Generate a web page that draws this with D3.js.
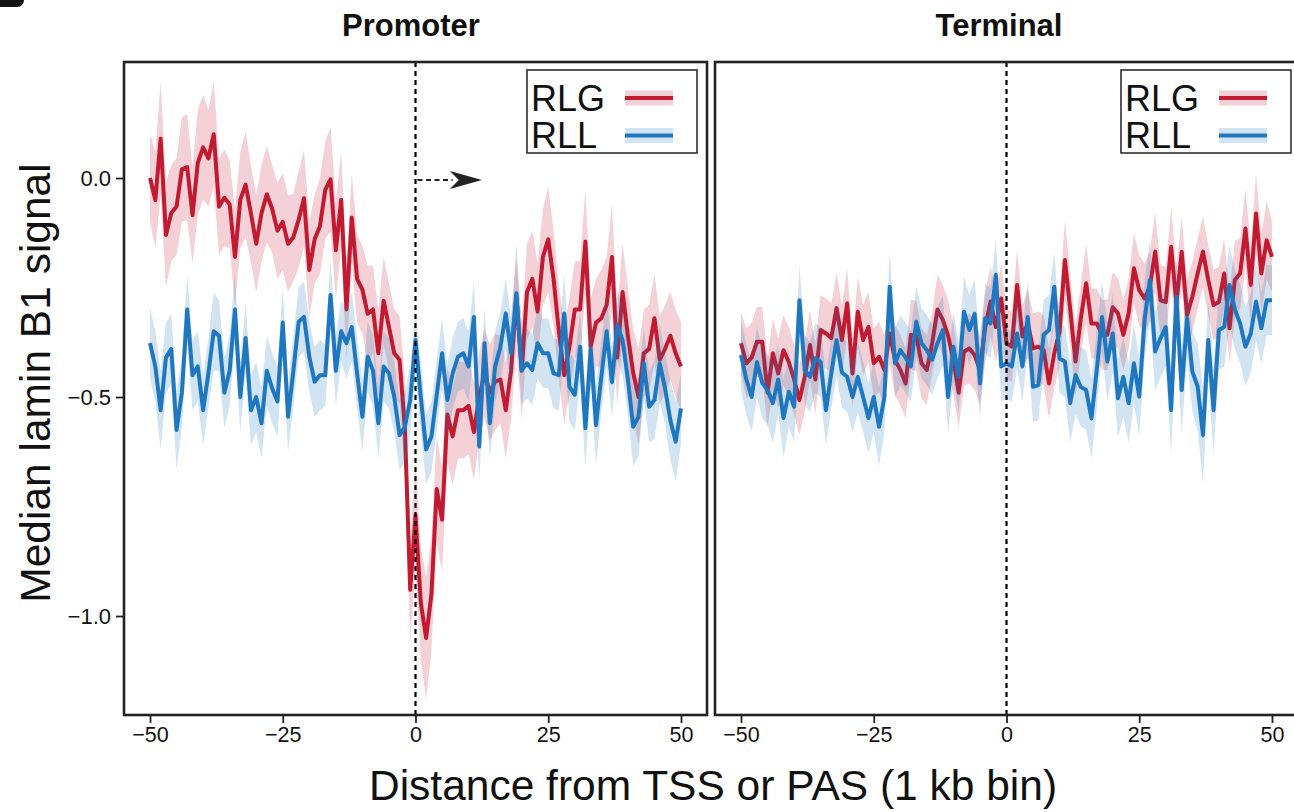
<!DOCTYPE html>
<html>
<head>
<meta charset="utf-8">
<script src="https://cdn.jsdelivr.net/npm/d3@7"></script>
<style>
  body { margin: 0; background: #fff; }
  svg { display: block; font-family: "Liberation Sans", Arial, sans-serif; }
</style>
</head>
<body>
<svg id="chart"></svg>
<script>
// bins -50..50 (1 kb)
const bins = d3.range(-50, 51);
const panels = ["Promoter", "Terminal"];
const xTicks = [-50, -25, 0, 25, 50];
const yTicks = [0, -0.5, -1.0];

const promoterRLG = [
  0.00, -0.05, 0.09, -0.13, -0.08, -0.065, 0.02, 0.025, -0.085, 0.035,
  0.07, 0.045, 0.10, -0.065, -0.045, -0.06, -0.18, -0.05, -0.015, -0.08,
  -0.15, -0.08, -0.037, -0.07, -0.12, -0.10, -0.15, -0.135, -0.095, -0.046,
  -0.21, -0.14, -0.11, -0.027, -0.003, -0.165, -0.05, -0.30, -0.09, -0.23,
  -0.255, -0.31, -0.30, -0.40, -0.28, -0.34, -0.40, -0.415, -0.57, -0.94,
  -0.77, -0.97, -1.05, -0.95, -0.71, -0.78, -0.54, -0.59, -0.53, -0.53,
  -0.52, -0.58, -0.50, -0.445, -0.49, -0.465, -0.46, -0.53, -0.44, -0.27,
  -0.44, -0.26, -0.23, -0.305, -0.18, -0.14, -0.23, -0.35, -0.45, -0.385,
  -0.30, -0.30, -0.145, -0.385, -0.33, -0.32, -0.29, -0.18, -0.41, -0.26,
  -0.36, -0.445, -0.50, -0.40, -0.39, -0.32, -0.415, -0.39, -0.36, -0.40,
  -0.43
];
const promoterRLGse = [
  0.10, 0.11, 0.13, 0.12, 0.11, 0.11, 0.12, 0.12, 0.11, 0.12,
  0.12, 0.11, 0.12, 0.11, 0.11, 0.10, 0.11, 0.11, 0.12, 0.11,
  0.11, 0.11, 0.11, 0.10, 0.11, 0.11, 0.11, 0.10, 0.11, 0.11,
  0.11, 0.10, 0.11, 0.11, 0.12, 0.11, 0.11, 0.11, 0.10, 0.10,
  0.10, 0.11, 0.10, 0.10, 0.10, 0.10, 0.10, 0.10, 0.11, 0.12,
  0.12, 0.13, 0.14, 0.13, 0.12, 0.12, 0.11, 0.11, 0.11, 0.11,
  0.11, 0.11, 0.10, 0.10, 0.11, 0.11, 0.10, 0.11, 0.11, 0.12,
  0.11, 0.11, 0.11, 0.11, 0.11, 0.12, 0.11, 0.11, 0.11, 0.11,
  0.11, 0.11, 0.12, 0.11, 0.10, 0.11, 0.11, 0.12, 0.11, 0.11,
  0.11, 0.10, 0.11, 0.10, 0.10, 0.10, 0.10, 0.10, 0.10, 0.10,
  0.10
];
const promoterRLL = [
  -0.377, -0.43, -0.53, -0.41, -0.39, -0.575, -0.49, -0.30, -0.45, -0.43,
  -0.53, -0.445, -0.35, -0.36, -0.49, -0.44, -0.30, -0.50, -0.365, -0.53,
  -0.50, -0.56, -0.44, -0.48, -0.51, -0.33, -0.545, -0.44, -0.328, -0.317,
  -0.408, -0.465, -0.45, -0.45, -0.267, -0.44, -0.35, -0.377, -0.34, -0.446,
  -0.545, -0.408, -0.44, -0.56, -0.43, -0.446, -0.50, -0.587, -0.568, -0.507,
  -0.37, -0.50, -0.62, -0.59, -0.495, -0.40, -0.507, -0.446, -0.408, -0.40,
  -0.43, -0.317, -0.613, -0.377, -0.56, -0.43, -0.385, -0.309, -0.40, -0.263,
  -0.438, -0.423, -0.438, -0.377, -0.40, -0.40, -0.446, -0.45, -0.309, -0.477,
  -0.495, -0.385, -0.571, -0.39, -0.564, -0.454, -0.35, -0.466, -0.336, -0.37,
  -0.46, -0.568, -0.545, -0.423, -0.522, -0.507, -0.423, -0.48, -0.553, -0.602,
  -0.526
];
const promoterRLLse = [
  0.08, 0.08, 0.09, 0.08, 0.08, 0.09, 0.08, 0.08, 0.08, 0.08,
  0.08, 0.08, 0.09, 0.08, 0.08, 0.08, 0.08, 0.08, 0.08, 0.08,
  0.08, 0.08, 0.08, 0.08, 0.08, 0.08, 0.08, 0.08, 0.08, 0.08,
  0.08, 0.08, 0.08, 0.07, 0.08, 0.08, 0.07, 0.08, 0.08, 0.08,
  0.08, 0.08, 0.08, 0.08, 0.08, 0.08, 0.08, 0.08, 0.08, 0.08,
  0.07, 0.08, 0.08, 0.08, 0.08, 0.08, 0.08, 0.08, 0.08, 0.08,
  0.08, 0.08, 0.08, 0.08, 0.08, 0.08, 0.08, 0.08, 0.08, 0.08,
  0.08, 0.08, 0.08, 0.08, 0.08, 0.08, 0.08, 0.08, 0.09, 0.08,
  0.08, 0.08, 0.09, 0.08, 0.09, 0.08, 0.08, 0.08, 0.08, 0.08,
  0.08, 0.09, 0.09, 0.08, 0.08, 0.09, 0.09, 0.08, 0.09, 0.09,
  0.08
];
const terminalRLG = [
  -0.377, -0.423, -0.41, -0.374, -0.374, -0.49, -0.40, -0.446, -0.393, -0.42,
  -0.46, -0.507, -0.454, -0.381, -0.46, -0.347, -0.355, -0.365, -0.297, -0.37,
  -0.286, -0.446, -0.305, -0.37, -0.34, -0.423, -0.408, -0.438, -0.355, -0.415,
  -0.438, -0.469, -0.358, -0.36, -0.423, -0.438, -0.377, -0.30, -0.324, -0.36,
  -0.415, -0.49, -0.396, -0.389, -0.404, -0.438, -0.34, -0.282, -0.34, -0.275,
  -0.377, -0.385, -0.244, -0.362, -0.332, -0.389, -0.385, -0.393, -0.469, -0.40,
  -0.35, -0.187, -0.30, -0.419, -0.32, -0.24, -0.332, -0.332, -0.358, -0.358,
  -0.295, -0.309, -0.358, -0.309, -0.206, -0.256, -0.275, -0.248, -0.168, -0.279,
  -0.283, -0.157, -0.286, -0.168, -0.313, -0.271, -0.218, -0.168, -0.233, -0.29,
  -0.283, -0.218, -0.343, -0.233, -0.218, -0.115, -0.244, -0.081, -0.218, -0.142,
  -0.18
];
const terminalRLGse = [
  0.07, 0.08, 0.08, 0.08, 0.08, 0.08, 0.08, 0.08, 0.08, 0.08,
  0.08, 0.08, 0.08, 0.08, 0.08, 0.08, 0.08, 0.08, 0.08, 0.08,
  0.08, 0.08, 0.08, 0.08, 0.08, 0.08, 0.08, 0.08, 0.07, 0.08,
  0.08, 0.08, 0.08, 0.08, 0.08, 0.08, 0.07, 0.08, 0.08, 0.08,
  0.08, 0.08, 0.08, 0.08, 0.08, 0.08, 0.08, 0.08, 0.08, 0.08,
  0.08, 0.08, 0.08, 0.07, 0.08, 0.08, 0.08, 0.08, 0.08, 0.08,
  0.08, 0.09, 0.08, 0.08, 0.08, 0.09, 0.08, 0.08, 0.08, 0.08,
  0.08, 0.08, 0.08, 0.08, 0.08, 0.08, 0.08, 0.08, 0.09, 0.08,
  0.08, 0.09, 0.08, 0.08, 0.08, 0.08, 0.08, 0.08, 0.08, 0.08,
  0.08, 0.08, 0.08, 0.09, 0.08, 0.09, 0.09, 0.09, 0.09, 0.09,
  0.08
];
const terminalRLL = [
  -0.404, -0.46, -0.50, -0.42, -0.468, -0.484, -0.514, -0.46, -0.548, -0.488,
  -0.522, -0.279, -0.438, -0.454, -0.411, -0.42, -0.53, -0.446, -0.37, -0.444,
  -0.454, -0.50, -0.454, -0.50, -0.548, -0.50, -0.568, -0.50, -0.248, -0.423,
  -0.393, -0.41, -0.43, -0.328, -0.377, -0.393, -0.415, -0.377, -0.347, -0.50,
  -0.385, -0.454, -0.305, -0.347, -0.31, -0.469, -0.32, -0.332, -0.221, -0.43,
  -0.423, -0.43, -0.355, -0.43, -0.317, -0.477, -0.473, -0.358, -0.347, -0.248,
  -0.412, -0.419, -0.514, -0.45, -0.477, -0.484, -0.549, -0.438, -0.317, -0.419,
  -0.355, -0.503, -0.454, -0.514, -0.423, -0.499, -0.324, -0.233, -0.396, -0.366,
  -0.34, -0.53, -0.271, -0.484, -0.32, -0.442, -0.476, -0.587, -0.37, -0.53,
  -0.347, -0.34, -0.244, -0.30, -0.332, -0.385, -0.355, -0.282, -0.343, -0.279,
  -0.279
];
const terminalRLLse = [
  0.08, 0.08, 0.08, 0.08, 0.08, 0.08, 0.09, 0.08, 0.09, 0.08,
  0.08, 0.08, 0.08, 0.08, 0.08, 0.08, 0.08, 0.08, 0.08, 0.08,
  0.08, 0.08, 0.08, 0.08, 0.08, 0.08, 0.09, 0.08, 0.08, 0.08,
  0.08, 0.08, 0.08, 0.08, 0.08, 0.08, 0.08, 0.08, 0.08, 0.08,
  0.08, 0.08, 0.08, 0.08, 0.08, 0.08, 0.08, 0.08, 0.08, 0.08,
  0.08, 0.08, 0.08, 0.08, 0.08, 0.08, 0.08, 0.08, 0.08, 0.08,
  0.08, 0.08, 0.09, 0.09, 0.09, 0.09, 0.09, 0.09, 0.08, 0.09,
  0.09, 0.09, 0.09, 0.09, 0.09, 0.09, 0.09, 0.09, 0.09, 0.09,
  0.09, 0.10, 0.09, 0.10, 0.09, 0.09, 0.10, 0.11, 0.09, 0.10,
  0.09, 0.09, 0.09, 0.09, 0.09, 0.09, 0.09, 0.09, 0.08, 0.08,
  0.08
];

const seriesNames = ["RLG", "RLL"];
const lineColors  = { RLG: "#c21a30", RLL: "#1f78bf" };
const panelData = {
  Promoter: { RLG: [promoterRLG, promoterRLGse], RLL: [promoterRLL, promoterRLLse] },
  Terminal: { RLG: [terminalRLG, terminalRLGse], RLL: [terminalRLL, terminalRLLse] }
};

const W = 1294, H = 812;
const svg = d3.select("#chart").attr("width", W).attr("height", H);

const panelBox = { Promoter: [124, 707], Terminal: [715, 1298] };
const titleX   = { Promoter: 411, Terminal: 999 };
const legendX  = { Promoter: 527, Terminal: 1121 };
const yTop = 62, yBot = 715;
const y = d3.scaleLinear().domain([0.265, -1.226]).range([yTop, yBot]);
const minus = d => d3.format(".1f")(d).replace("-", "\u2212");

// cropped panel tag in the corner
svg.append("rect").attr("x", -12).attr("y", -20).attr("width", 36).attr("height", 27).attr("rx", 7).attr("fill", "#111");

panels.forEach((p, pi) => {
  const [x0, x1] = panelBox[p];
  const x = d3.scaleLinear().domain([-54.9, 54.9]).range([x0, x1]);
  const g = svg.append("g");

  svg.append("defs").append("clipPath").attr("id", `clip${pi}`)
    .append("rect").attr("x", x0).attr("y", yTop).attr("width", x1 - x0).attr("height", yBot - yTop);

  const plot = g.append("g").attr("clip-path", `url(#clip${pi})`);

  seriesNames.forEach(s => {
    const [vals, se] = panelData[p][s];
    const rows = bins.map((b, i) => ({ b, v: vals[i], lo: vals[i] - se[i], hi: vals[i] + se[i] }));
    plot.append("path").datum(rows)
      .attr("fill", lineColors[s]).attr("fill-opacity", 0.2)
      .attr("d", d3.area().x(d => x(d.b)).y0(d => y(d.lo)).y1(d => y(d.hi)));
    plot.append("path").datum(rows)
      .attr("fill", "none").attr("stroke", lineColors[s]).attr("stroke-width", 4).attr("stroke-linejoin", "round")
      .attr("d", d3.line().x(d => x(d.b)).y(d => y(d.v)));
  });

  // dashed line at TSS / PAS
  g.append("line").attr("x1", x(0)).attr("x2", x(0)).attr("y1", yTop).attr("y2", yBot)
    .attr("stroke", "#000").attr("stroke-width", 2.2).attr("stroke-dasharray", "5,4");

  if (p === "Promoter") {
    const ay = y(0) + 2;
    g.append("line").attr("x1", x(0) + 2).attr("x2", x(7)).attr("y1", ay).attr("y2", ay)
      .attr("stroke", "#222").attr("stroke-width", 2).attr("stroke-dasharray", "5,3.5");
    const tip = x(12.5);
    g.append("path").attr("fill", "#222")
      .attr("d", `M${tip},${ay} L${tip - 32},${ay - 9} L${tip - 23},${ay} L${tip - 32},${ay + 9} Z`);
  }

  // frame
  g.append("rect").attr("x", x0).attr("y", yTop).attr("width", x1 - x0).attr("height", yBot - yTop)
    .attr("fill", "none").attr("stroke", "#222").attr("stroke-width", 2.6);

  // x axis
  const xa = g.append("g").attr("transform", `translate(0,${yBot + 1})`)
    .call(d3.axisBottom(x).tickValues(xTicks).tickSize(7).tickPadding(4));
  xa.select(".domain").remove();
  xa.selectAll(".tick line").attr("stroke", "#222").attr("stroke-width", 1.8);
  xa.selectAll(".tick text").attr("font-size", 21.5).attr("fill", "#111").attr("font-family", "Liberation Sans, Arial, sans-serif");

  // panel title
  g.append("text").attr("x", titleX[p]).attr("y", 36).attr("text-anchor", "middle")
    .attr("font-size", 31).attr("font-weight", "bold").attr("fill", "#111").text(p);

  // legend
  const lg = g.append("g").attr("transform", `translate(${legendX[p]},70)`);
  lg.append("rect").attr("width", 170).attr("height", 83).attr("fill", "#fff").attr("stroke", "#222").attr("stroke-width", 1.5);
  seriesNames.forEach((s, i) => {
    const cy = 28 + i * 37.5;
    lg.append("text").attr("x", 4).attr("y", cy + 12.5).attr("font-size", 36).attr("fill", "#111").text(s);
    lg.append("rect").attr("x", 98).attr("y", cy - 7.5).attr("width", 48).attr("height", 15)
      .attr("fill", lineColors[s]).attr("fill-opacity", 0.2);
    lg.append("line").attr("x1", 98).attr("x2", 146).attr("y1", cy).attr("y2", cy)
      .attr("stroke", lineColors[s]).attr("stroke-width", 4);
  });

  if (pi === 0) {
    const ya = g.append("g").attr("transform", `translate(${x0 - 1},0)`)
      .call(d3.axisLeft(y).tickValues(yTicks).tickSize(7).tickPadding(5).tickFormat(minus));
    ya.select(".domain").remove();
    ya.selectAll(".tick line").attr("stroke", "#222").attr("stroke-width", 1.8);
    ya.selectAll(".tick text").attr("font-size", 22).attr("fill", "#111").attr("font-family", "Liberation Sans, Arial, sans-serif");
  }
});

svg.append("text").attr("x", 713).attr("y", 800).attr("text-anchor", "middle")
  .attr("font-size", 42.5).attr("fill", "#111").text("Distance from TSS or PAS (1 kb bin)");
svg.append("text").attr("transform", "translate(50,383) rotate(-90)").attr("text-anchor", "middle")
  .attr("font-size", 42.5).attr("fill", "#111").text("Median lamin B1 signal");
</script>
</body>
</html>
